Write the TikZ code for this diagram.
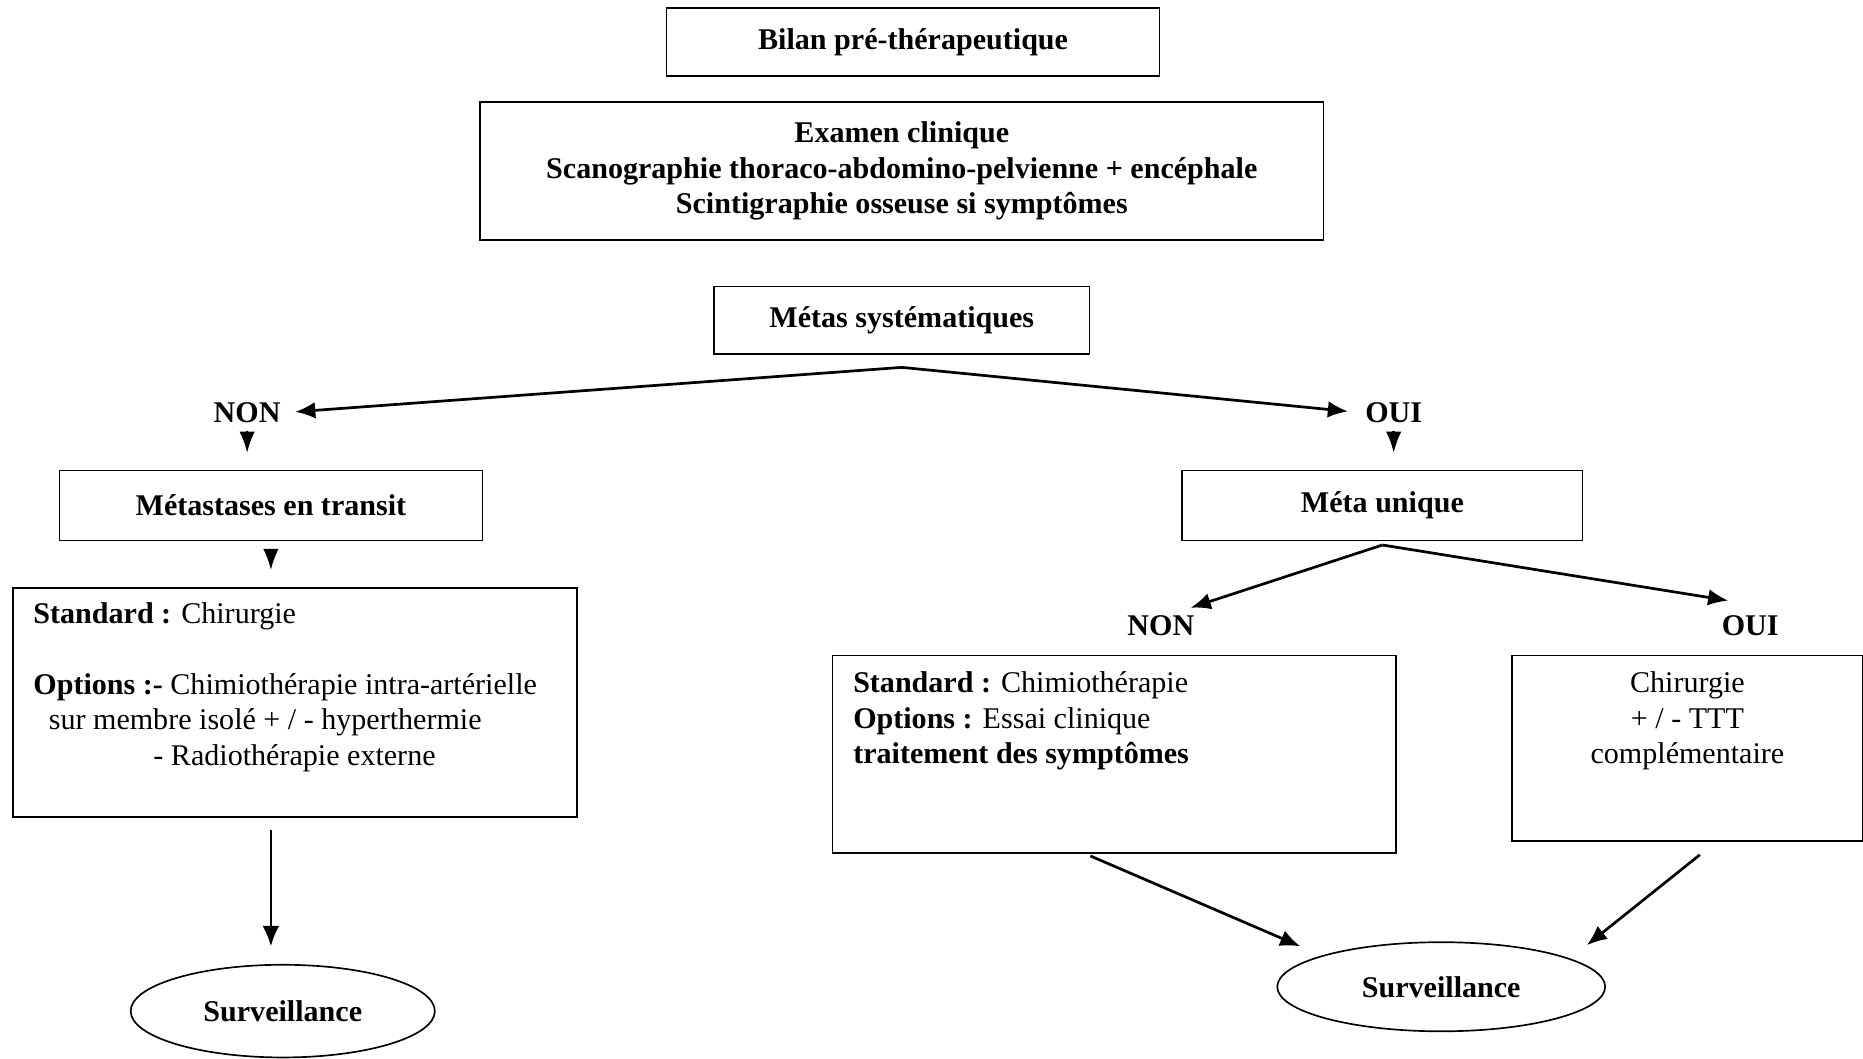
\documentclass[tikz,border=0pt]{standalone}
\usepackage{fontspec}
\setmainfont{Liberation Serif}
\usetikzlibrary{arrows.meta,shapes.geometric}

\begin{document}
\begin{tikzpicture}[->, >={Latex[length=0.34cm,width=0.28cm]}, line width=1.3pt, every node/.style={font=\fontsize{14.4}{17}\selectfont}, box/.style={rectangle, draw, line width=0.8pt, align=center, font=\fontsize{14.4}{17}\selectfont\bfseries}, oval/.style={ellipse, draw, line width=0.8pt, font=\fontsize{14.4}{17}\selectfont\bfseries}, answer/.style={font=\fontsize{14.4}{17}\selectfont\bfseries}, txt/.style={inner sep=0pt, align=left}, tip/.style={-{Latex[length=0.36cm,width=0.26cm]}, shorten >=0.28cm}]
	\useasboundingbox (0,0) rectangle (31.36,-17.82);
	\node[box, minimum width=8.3cm, minimum height=1.14cm] (bilan) at (15.37,-0.71) {Bilan pré-thérapeutique};
	\node[box, minimum width=14.2cm, minimum height=2.32cm] (examen) at (15.18,-2.88) {Examen clinique\\Scanographie thoraco-abdomino-pelvienne + encéphale\\Scintigraphie osseuse si symptômes};
	\node[box, minimum width=6.32cm, minimum height=1.14cm] (metas) at (15.18,-5.39) {Métas systématiques};
	\coordinate (fork1) at ([yshift=-0.21cm]metas.south);
	\node[answer] (non1) at (4.16,-6.94) {NON};
	\node[answer] (oui1) at (23.46,-6.94) {OUI};
	\node[box, minimum width=7.12cm, minimum height=1.18cm] (transit) at (4.56,-8.51) {Métastases en transit};
	\node[box, minimum width=6.74cm, minimum height=1.18cm] (unique) at (23.27,-8.51) {Méta unique};
	\coordinate (fork2) at ([yshift=-0.06cm]unique.south);
	\node[answer] (non2) at (19.54,-10.54) {NON};
	\node[answer] (oui2) at (29.46,-10.54) {OUI};
	\node[box, minimum width=9.5cm, minimum height=3.86cm, anchor=north west] (chir1) at (0.2,-9.88) {};
	\node[txt, anchor=north west] (chir1txt) at ([xshift=0.34cm,yshift=-0.24cm]chir1.north west) {\textbf{Standard :} Chirurgie\\[17pt]\textbf{Options :-} Chimiothérapie intra-artérielle\\\hspace*{0.26cm}sur membre isolé + / - hyperthermie\\\hspace*{2.02cm}- Radiothérapie externe};
	\node[box, minimum width=9.48cm, minimum height=3.32cm, anchor=north west] (chimio) at (14,-11.02) {};
	\node[txt, anchor=north west] (chimiotxt) at ([xshift=0.34cm,yshift=-0.27cm]chimio.north west) {\textbf{Standard :} Chimiothérapie\\\textbf{Options :} Essai clinique\\\textbf{traitement des symptômes}};
	\node[box, minimum width=5.9cm, minimum height=3.12cm, anchor=north west] (chir2) at (25.44,-11.02) {};
	\node[txt, align=center, anchor=north] (chir2txt) at ([yshift=-0.27cm]chir2.north) {Chirurgie\\+ / - TTT\\complémentaire};
	\node[oval, minimum width=5.12cm, minimum height=1.56cm] (surv1) at (4.76,-17.02) {Surveillance};
	\node[oval, minimum width=5.52cm, minimum height=1.5cm] (surv2) at (24.26,-16.61) {Surveillance};

	\path
		(fork1) edge[shorten >=3pt] (non1.east)
			edge[shorten >=4.3pt] (oui1.west)
		(non1.south) edge[tip] (transit.north -| non1.south)
		(oui1.south) edge[tip] (unique.north -| oui1.south)
		(transit.south) edge[tip, shorten <=0.14cm] (chir1.north -| transit.south)
		(chir1.south -| transit.south) edge[line width=0.8pt, shorten <=0.2cm, shorten >=0.3cm] (surv1.north -| transit.south)
		(fork2) edge ([xshift=-0.2cm]non2.north east)
			edge ([xshift=0.25cm,yshift=0.12cm]oui2.north west)
		([xshift=-0.4cm,yshift=-0.04cm]chimio.south) edge ([xshift=-0.41cm,yshift=0.14cm]surv2.north west)
		([xshift=0.21cm,yshift=-0.22cm]chir2.south) edge ([xshift=0.49cm,yshift=0.16cm]surv2.north east);
\end{tikzpicture}
\end{document}
